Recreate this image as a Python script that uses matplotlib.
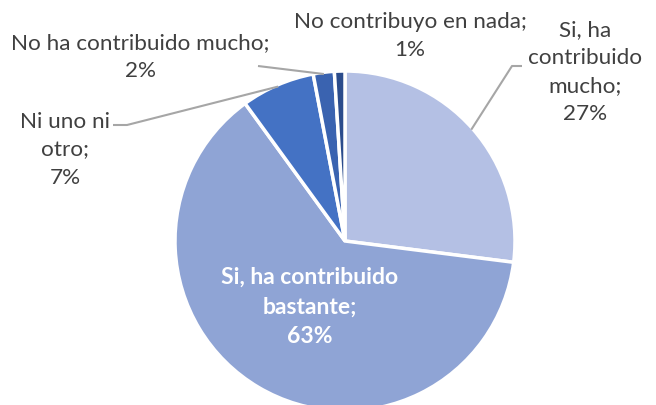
import numpy as np
import matplotlib
matplotlib.use("Agg")
import matplotlib.pyplot as plt

# Survey answers, in drawing order (clockwise from 12 o'clock)
categories = ["Si, ha contribuido mucho", "Si, ha contribuido bastante",
              "Ni uno ni otro", "No ha contribuido mucho", "No contribuyo en nada"]
shares = [27, 63, 7, 2, 1]
colors = ["#B4C0E4", "#8FA4D5", "#4472C4", "#3A63B0", "#2B4C8C"]

W, H = 656, 406
plt.rcParams["font.family"] = ["Lato", "DejaVu Sans"]

fig = plt.figure(figsize=(W / 100, H / 100), dpi=100)
ax = fig.add_axes([0, 0, 1, 1])

cx, cy, R = 345, H - 242, 170
wedges, _ = ax.pie(shares, colors=colors, startangle=90, counterclock=False,
                   center=(cx, cy), radius=R,
                   wedgeprops=dict(edgecolor="white", linewidth=2.5))
ax.set_xlim(0, W)
ax.set_ylim(0, H)
ax.set_aspect("equal")
ax.axis("off")


def edge_point(w, frac=1.0):
    ang = np.deg2rad((w.theta1 + w.theta2) / 2)
    return cx + R * frac * np.cos(ang), cy + R * frac * np.sin(ang)


def label(i, multiline=None):
    name = multiline if multiline else categories[i]
    return f"{name};\n{shares[i]}%"


txt = dict(ha="center", va="center", fontsize=16.2, color="#404040", linespacing=1.5)
lead = dict(color="#A6A6A6", lw=1.5, solid_capstyle="butt")

# Si, ha contribuido mucho
ax.text(585, H - 72, label(0, "Si, ha\ncontribuido\nmucho"), **txt)
px, py = edge_point(wedges[0], 0.99)
ax.plot([px, 512, 522], [py, H - 67, H - 67], **lead)

# Si, ha contribuido bastante (inside, bold white)
ax.text(310, H - 307, label(1, "Si, ha contribuido\nbastante"),
        **{**txt, "color": "white", "fontweight": "bold", "fontsize": 16.5})

# Ni uno ni otro
ax.text(65, H - 150, label(2, "Ni uno ni\notro"), **txt)
px, py = edge_point(wedges[2], 0.99)
ax.plot([113, 127, px], [H - 126, H - 126, py], **lead)

# No ha contribuido mucho
ax.text(140, H - 57, label(3), **txt)
px, py = edge_point(wedges[3], 0.99)
ax.plot([258, px], [H - 67, py], **lead)

# No contribuyo en nada
ax.text(410, H - 36, label(4), **txt)

fig.savefig("out.png", dpi=100)
